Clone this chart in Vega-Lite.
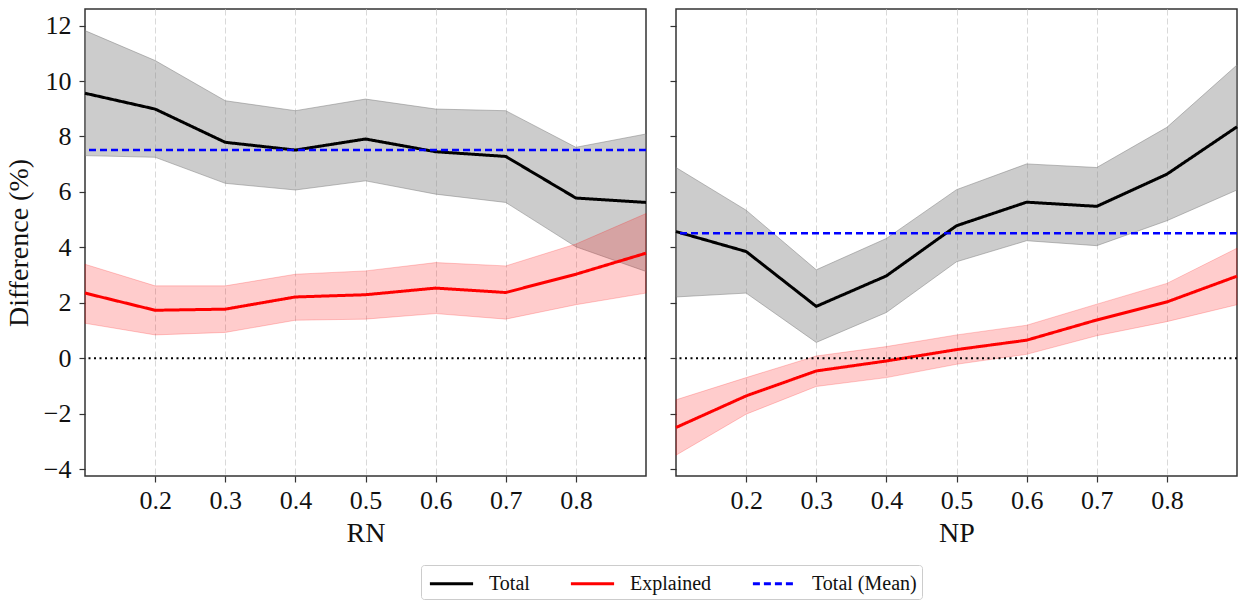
{
  "$schema": "https://vega.github.io/schema/vega-lite/v6.json",
  "padding": {"top": 8, "left": 4, "right": 2, "bottom": 2},
  "config": {
    "font": "Liberation Serif",
    "view": {"stroke": "#333333", "strokeWidth": 1.5},
    "axis": {
      "labelFont": "Liberation Serif", "titleFont": "Liberation Serif",
      "labelFontSize": 26, "titleFontSize": 28, "titleFontWeight": "normal",
      "labelColor": "#111111", "titleColor": "#111111",
      "tickColor": "#333333", "tickSize": 6, "tickWidth": 1.2, "domain": false
    },
    "legend": {"labelFont": "Liberation Serif", "labelFontSize": 20, "labelColor": "#111111"}
  },
  "datasets": {
    "bands": [
      {"panel": "RN", "series": "Total", "x": 0.1, "y": 9.56, "lo": 7.31, "hi": 11.82},
      {"panel": "RN", "series": "Total", "x": 0.2, "y": 8.99, "lo": 7.25, "hi": 10.74},
      {"panel": "RN", "series": "Total", "x": 0.3, "y": 7.79, "lo": 6.31, "hi": 9.29},
      {"panel": "RN", "series": "Total", "x": 0.4, "y": 7.51, "lo": 6.07, "hi": 8.93},
      {"panel": "RN", "series": "Total", "x": 0.5, "y": 7.91, "lo": 6.40, "hi": 9.35},
      {"panel": "RN", "series": "Total", "x": 0.6, "y": 7.45, "lo": 5.92, "hi": 8.99},
      {"panel": "RN", "series": "Total", "x": 0.7, "y": 7.28, "lo": 5.62, "hi": 8.93},
      {"panel": "RN", "series": "Total", "x": 0.8, "y": 5.78, "lo": 4.02, "hi": 7.61},
      {"panel": "RN", "series": "Total", "x": 0.9, "y": 5.62, "lo": 3.13, "hi": 8.09},
      {"panel": "RN", "series": "Explained", "x": 0.1, "y": 2.35, "lo": 1.26, "hi": 3.39},
      {"panel": "RN", "series": "Explained", "x": 0.2, "y": 1.73, "lo": 0.84, "hi": 2.61},
      {"panel": "RN", "series": "Explained", "x": 0.3, "y": 1.77, "lo": 0.93, "hi": 2.61},
      {"panel": "RN", "series": "Explained", "x": 0.4, "y": 2.21, "lo": 1.37, "hi": 3.03},
      {"panel": "RN", "series": "Explained", "x": 0.5, "y": 2.29, "lo": 1.41, "hi": 3.15},
      {"panel": "RN", "series": "Explained", "x": 0.6, "y": 2.53, "lo": 1.61, "hi": 3.45},
      {"panel": "RN", "series": "Explained", "x": 0.7, "y": 2.37, "lo": 1.41, "hi": 3.33},
      {"panel": "RN", "series": "Explained", "x": 0.8, "y": 3.03, "lo": 1.93, "hi": 4.12},
      {"panel": "RN", "series": "Explained", "x": 0.9, "y": 3.79, "lo": 2.35, "hi": 5.22},
      {"panel": "NP", "series": "Total", "x": 0.1, "y": 4.57, "lo": 2.21, "hi": 6.88},
      {"panel": "NP", "series": "Total", "x": 0.2, "y": 3.85, "lo": 2.35, "hi": 5.34},
      {"panel": "NP", "series": "Total", "x": 0.3, "y": 1.87, "lo": 0.57, "hi": 3.19},
      {"panel": "NP", "series": "Total", "x": 0.4, "y": 2.97, "lo": 1.65, "hi": 4.32},
      {"panel": "NP", "series": "Total", "x": 0.5, "y": 4.78, "lo": 3.48, "hi": 6.08},
      {"panel": "NP", "series": "Total", "x": 0.6, "y": 5.63, "lo": 4.24, "hi": 7.01},
      {"panel": "NP", "series": "Total", "x": 0.7, "y": 5.48, "lo": 4.06, "hi": 6.88},
      {"panel": "NP", "series": "Total", "x": 0.8, "y": 6.64, "lo": 4.96, "hi": 8.33},
      {"panel": "NP", "series": "Total", "x": 0.9, "y": 8.35, "lo": 6.07, "hi": 10.58},
      {"panel": "NP", "series": "Explained", "x": 0.1, "y": -2.50, "lo": -3.50, "hi": -1.50},
      {"panel": "NP", "series": "Explained", "x": 0.2, "y": -1.36, "lo": -2.02, "hi": -0.70},
      {"panel": "NP", "series": "Explained", "x": 0.3, "y": -0.46, "lo": -1.02, "hi": 0.08},
      {"panel": "NP", "series": "Explained", "x": 0.4, "y": -0.10, "lo": -0.70, "hi": 0.42},
      {"panel": "NP", "series": "Explained", "x": 0.5, "y": 0.31, "lo": -0.22, "hi": 0.84},
      {"panel": "NP", "series": "Explained", "x": 0.6, "y": 0.65, "lo": 0.14, "hi": 1.19},
      {"panel": "NP", "series": "Explained", "x": 0.7, "y": 1.38, "lo": 0.81, "hi": 1.95},
      {"panel": "NP", "series": "Explained", "x": 0.8, "y": 2.03, "lo": 1.32, "hi": 2.70},
      {"panel": "NP", "series": "Explained", "x": 0.9, "y": 2.96, "lo": 1.93, "hi": 3.97}
    ],
    "means": [
      {"panel": "RN", "series": "Total (Mean)", "y": 7.51},
      {"panel": "NP", "series": "Total (Mean)", "y": 4.51}
    ],
    "zero": [{"y": 0}]
  },
  "spacing": 15,
  "resolve": {"scale": {"y": "shared", "color": "shared", "strokeDash": "shared"}},
  "hconcat": [
    {
      "width": 561, "height": 467,
      "layer": [
        {
          "data": {"name": "bands"},
          "transform": [{"filter": "datum.panel === 'RN' && datum.series === 'Total'"}],
          "mark": {"type": "area", "fill": "#808080", "fillOpacity": 0.4, "stroke": "#808080", "strokeOpacity": 0.5, "strokeWidth": 1},
          "encoding": {
            "x": {"field": "x", "type": "quantitative", "scale": {"domain": [0.1, 0.9], "nice": false, "zero": false},
                  "axis": {"values": [0.2, 0.3, 0.4, 0.5, 0.6, 0.7, 0.8], "format": ".1f", "title": "RN", "grid": true, "gridDash": [6, 3], "gridColor": "#d9d9d9", "gridWidth": 1, "labelPadding": 5, "titlePadding": 6}},
            "y": {"field": "lo", "type": "quantitative", "scale": {"domain": [-4.25, 12.6], "nice": false, "zero": false},
                  "axis": {"values": [-4, -2, 0, 2, 4, 6, 8, 10, 12], "format": "d", "title": "Difference (%)", "grid": false, "labelPadding": 8, "titlePadding": 10}},
            "y2": {"field": "hi"}
          }
        },
        {
          "data": {"name": "bands"},
          "transform": [{"filter": "datum.panel === 'RN' && datum.series === 'Explained'"}],
          "mark": {"type": "area", "fill": "#ff0000", "fillOpacity": 0.2, "stroke": "#ff0000", "strokeOpacity": 0.2, "strokeWidth": 1},
          "encoding": {
            "x": {"field": "x", "type": "quantitative"},
            "y": {"field": "lo", "type": "quantitative"},
            "y2": {"field": "hi"}
          }
        },
        {
          "data": {"name": "bands"},
          "transform": [{"filter": "datum.panel === 'RN'"}],
          "mark": {"type": "line", "strokeWidth": 3},
          "encoding": {
            "x": {"field": "x", "type": "quantitative"},
            "y": {"field": "y", "type": "quantitative"},
            "detail": {"field": "series"},
            "color": {"field": "series", "type": "nominal", "scale": {"domain": ["Total", "Explained", "Total (Mean)"], "range": ["#000000", "#ff0000", "#0000ff"]},
                      "legend": {"title": null, "orient": "none", "legendX": 336, "legendY": 556, "direction": "horizontal", "symbolType": "M-1.8,0H1.8", "symbolSize": 576, "symbolStrokeWidth": 3, "symbolOffset": 12, "labelOffset": 24, "columnPadding": 34, "padding": 5, "strokeColor": "#cccccc", "fillColor": "#ffffff", "cornerRadius": 3}},
            "strokeDash": {"field": "series", "type": "nominal", "scale": {"domain": ["Total", "Explained", "Total (Mean)"], "range": [[1, 0], [1, 0], [7, 4]]},
                      "legend": {"title": null, "orient": "none", "legendX": 336, "legendY": 556, "direction": "horizontal", "symbolType": "M-1.8,0H1.8", "symbolSize": 576, "symbolStrokeWidth": 3, "symbolOffset": 12, "labelOffset": 24, "columnPadding": 34, "padding": 5, "strokeColor": "#cccccc", "fillColor": "#ffffff", "cornerRadius": 3}}
          }
        },
        {
          "data": {"name": "means"},
          "transform": [{"filter": "datum.panel === 'RN'"}],
          "mark": {"type": "rule", "strokeWidth": 2.5},
          "encoding": {
            "y": {"field": "y", "type": "quantitative"},
            "color": {"field": "series", "type": "nominal"},
            "strokeDash": {"field": "series", "type": "nominal"}
          }
        },
        {
          "data": {"name": "zero"},
          "mark": {"type": "rule", "color": "#000000", "strokeWidth": 2, "strokeDash": [2, 3.5]},
          "encoding": {"y": {"field": "y", "type": "quantitative"}}
        }
      ]
    },
    {
      "width": 561, "height": 467,
      "layer": [
        {
          "data": {"name": "bands"},
          "transform": [{"filter": "datum.panel === 'NP' && datum.series === 'Total'"}],
          "mark": {"type": "area", "fill": "#808080", "fillOpacity": 0.4, "stroke": "#808080", "strokeOpacity": 0.5, "strokeWidth": 1},
          "encoding": {
            "x": {"field": "x", "type": "quantitative", "scale": {"domain": [0.1, 0.9], "nice": false, "zero": false},
                  "axis": {"values": [0.2, 0.3, 0.4, 0.5, 0.6, 0.7, 0.8], "format": ".1f", "title": "NP", "grid": true, "gridDash": [6, 3], "gridColor": "#d9d9d9", "gridWidth": 1, "labelPadding": 5, "titlePadding": 6}},
            "y": {"field": "lo", "type": "quantitative",
                  "axis": {"values": [-4, -2, 0, 2, 4, 6, 8, 10, 12], "labels": false, "title": null, "grid": false}},
            "y2": {"field": "hi"}
          }
        },
        {
          "data": {"name": "bands"},
          "transform": [{"filter": "datum.panel === 'NP' && datum.series === 'Explained'"}],
          "mark": {"type": "area", "fill": "#ff0000", "fillOpacity": 0.2, "stroke": "#ff0000", "strokeOpacity": 0.2, "strokeWidth": 1},
          "encoding": {
            "x": {"field": "x", "type": "quantitative"},
            "y": {"field": "lo", "type": "quantitative"},
            "y2": {"field": "hi"}
          }
        },
        {
          "data": {"name": "bands"},
          "transform": [{"filter": "datum.panel === 'NP'"}],
          "mark": {"type": "line", "strokeWidth": 3},
          "encoding": {
            "x": {"field": "x", "type": "quantitative"},
            "y": {"field": "y", "type": "quantitative"},
            "detail": {"field": "series"},
            "color": {"field": "series", "type": "nominal"},
            "strokeDash": {"field": "series", "type": "nominal"}
          }
        },
        {
          "data": {"name": "means"},
          "transform": [{"filter": "datum.panel === 'NP'"}],
          "mark": {"type": "rule", "strokeWidth": 2.5},
          "encoding": {
            "y": {"field": "y", "type": "quantitative"},
            "color": {"field": "series", "type": "nominal"},
            "strokeDash": {"field": "series", "type": "nominal"}
          }
        },
        {
          "data": {"name": "zero"},
          "mark": {"type": "rule", "color": "#000000", "strokeWidth": 2, "strokeDash": [2, 3.5]},
          "encoding": {"y": {"field": "y", "type": "quantitative"}}
        }
      ]
    }
  ]
}
